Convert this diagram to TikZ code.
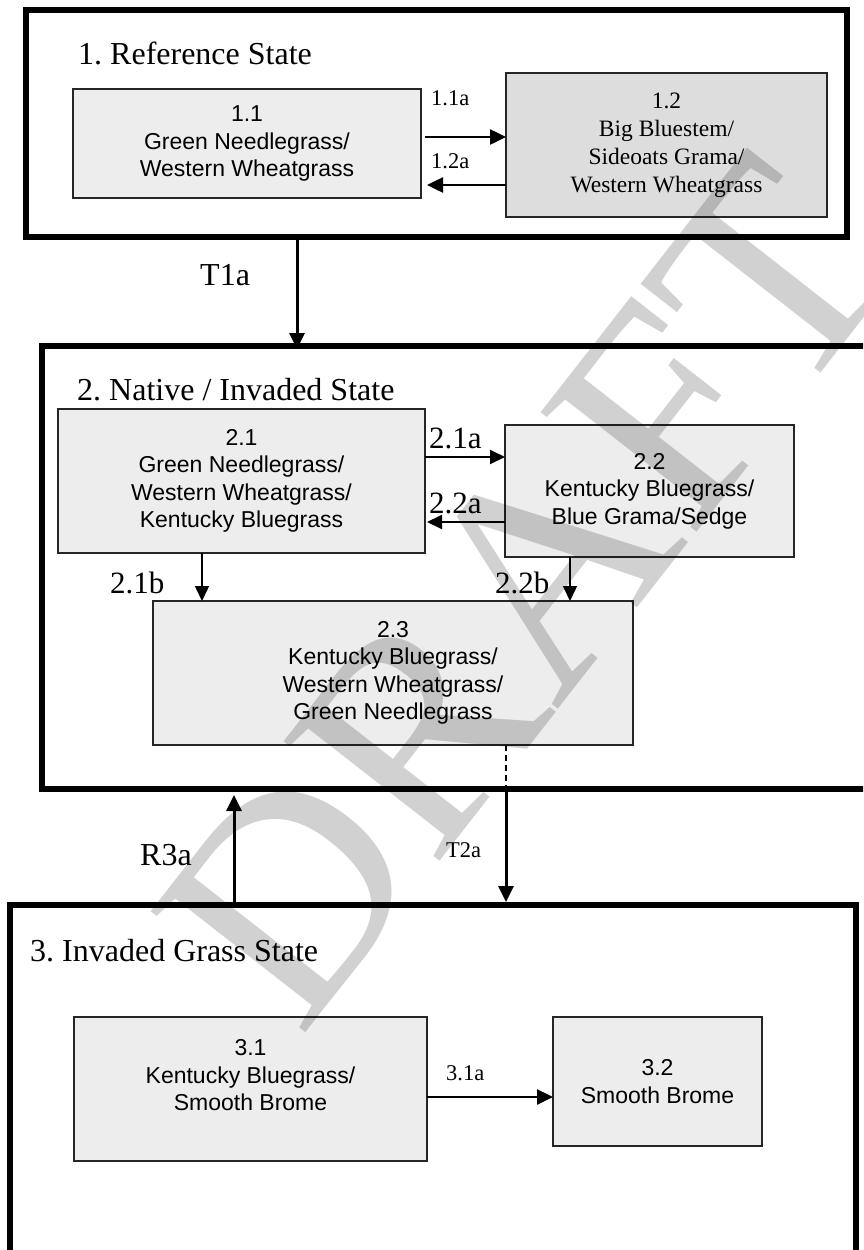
\documentclass[tikz,border=0pt]{standalone}
\usepackage{fontspec}
\setmainfont{Liberation Serif}
\newfontfamily\arialf{Liberation Sans}
\usetikzlibrary{arrows.meta,calc}
\definecolor{boxfill}{HTML}{EDEDED}
\definecolor{boxfilldark}{HTML}{DDDDDD}
\frenchspacing
\begin{document}
\begin{tikzpicture}[x=1pt,y=1pt,
  statebox/.style={draw=black, line width=6pt, inner sep=0pt, outer sep=0pt, anchor=north west},
  subbox/.style={draw=black!85, line width=1.6pt, fill=boxfill, inner sep=0pt, outer sep=0pt, align=center, font=\arialf\fontsize{23}{27.5}\selectfont},
  serifbox/.style={subbox, fill=boxfilldark, font=\rmfamily\fontsize{23.5}{28}\selectfont},
  title/.style={font=\fontsize{32}{38}\selectfont, inner sep=0pt, anchor=base west},
  biglbl/.style={font=\fontsize{31}{36}\selectfont, inner sep=0pt, anchor=base west},
  smalllbl/.style={font=\fontsize{22.5}{26}\selectfont, inner sep=0pt, anchor=base west},
  arrowbig/.style={-{Triangle[length=16pt,width=15pt]}, line width=2.5pt},
  arrowmid/.style={-{Triangle[length=15pt,width=14pt]}, line width=2pt},
  arrowthin/.style={-{Triangle[length=15pt,width=14pt]}, line width=1.5pt},
  arrowthick/.style={-{Triangle[length=16pt,width=15pt]}, line width=3pt},
  dashline/.style={line width=1.5pt, dash pattern=on 6pt off 4pt},
  watermark/.style={font=\fontsize{300}{300}\selectfont, text=black, opacity=0.18, inner sep=0pt, anchor=base west, rotate=52}
]
\useasboundingbox (0,0) rectangle (863,-1250);
\clip (0,0) rectangle (863,-1250);
\fill[white] (0,0) rectangle (863,-1250);

% state boxes
\node[statebox, minimum width=821pt, minimum height=227pt] (S1) at (26,-10) {};
\node[statebox, minimum width=840pt, minimum height=443.5pt] (S2) at (42,-345.5) {};
\node[statebox, minimum width=846pt, minimum height=370pt] (S3) at (10,-905) {};

% titles
\node[title] (t1) at (78,-64) {1. Reference State};
\node[title] (t2) at (77,-400) {2. Native / Invaded State};
\node[title] (t3) at (30,-961) {3. Invaded Grass State};

% community boxes
\node[subbox, minimum width=348pt, minimum height=109pt] (b11) at (247,-143.5) {1.1\\Green Needlegrass/\\Western Wheatgrass};
\node[serifbox, minimum width=321pt, minimum height=144pt] (b12) at (666.5,-145) {1.2\\Big Bluestem/\\Sideoats Grama/\\Western Wheatgrass};
\node[subbox, minimum width=367pt, minimum height=144pt] (b21) at (241.5,-481) {2.1\\Green Needlegrass/\\Western Wheatgrass/\\Kentucky Bluegrass};
\node[subbox, minimum width=289pt, minimum height=132pt] (b22) at (649.5,-491) {2.2\\Kentucky Bluegrass/\\Blue Grama/Sedge};
\node[subbox, minimum width=480pt, minimum height=144pt] (b23) at (393,-673) {2.3\\Kentucky Bluegrass/\\Western Wheatgrass/\\Green Needlegrass};
\node[subbox, minimum width=353pt, minimum height=144pt] (b31) at (250.5,-1089) {3.1\\Kentucky Bluegrass/\\Smooth Brome\\\mbox{}};
\node[subbox, minimum width=209pt, minimum height=129pt] (b32) at (657.5,-1081.5) {3.2\\Smooth Brome};

% connector coordinates
\coordinate (a11) at ($(b11.east)+(4,6.5)$);
\coordinate (a12) at ($(b11.east)+(0,-41.5)$);
\coordinate (a21) at ($(b21.east)+(0,24)$);
\coordinate (a22) at ($(b21.east)+(0,-41)$);
\coordinate (a21b) at ($(b21.south)+(-39.5,0)$);
\coordinate (a22b) at ($(b22.south)+(-79.5,0)$);
\coordinate (t1s) at ($(S1.south)+(-139.5,0)$);
\coordinate (r3) at ($(S3.north)+(-199,0)$);
\coordinate (d23) at ($(b23.south)+(113,0)$);
\coordinate (a31) at ($(b31.east)+(0,-8)$);

% connectors
\draw[arrowbig] (a11) -- (a11 -| b12.west);
\draw[arrowbig, shorten >=6pt] (a12 -| b12.west) -- (a12);
\draw[arrowmid] (a21) -- (a21 -| b22.west);
\draw[arrowmid, shorten >=2pt] (a22 -| b22.west) -- (a22);
\draw[arrowthin] (a21b) -- (a21b |- b23.north);
\draw[arrowthin] (a22b) -- (a22b |- b23.north);
\draw[arrowthick, shorten >=-3.5pt] (t1s) -- (t1s |- S2.north);
\draw[arrowthick, shorten >=6pt] (r3) -- (r3 |- S2.south);
\draw[dashline] (d23) -- (d23 |- S2.south);
\draw[arrowthick, shorten >=3pt] (d23 |- S2.south) -- (d23 |- S3.north);
\draw[arrowbig] (a31) -- (a31 -| b32.west);

% labels
\node[smalllbl] (l11a) at (431,-105) {1.1a};
\node[smalllbl] (l12a) at (431,-168) {1.2a};
\node[title] (lt1a) at (200,-285) {T1a};
\node[biglbl] (l21a) at (429,-448) {2.1a};
\node[biglbl] (l22a) at (429,-513) {2.2a};
\node[biglbl] (l21b) at (110,-593) {2.1b};
\node[biglbl] (l22b) at (495,-593) {2.2b};
\node[title] (lr3a) at (140,-865) {R3a};
\node[smalllbl] (lt2a) at (446,-857) {T2a};
\node[smalllbl] (l31a) at (446,-1080) {3.1a};

% watermark
\node[watermark] (wm) at (300,-1040) {DRAFT};
\end{tikzpicture}
\end{document}
